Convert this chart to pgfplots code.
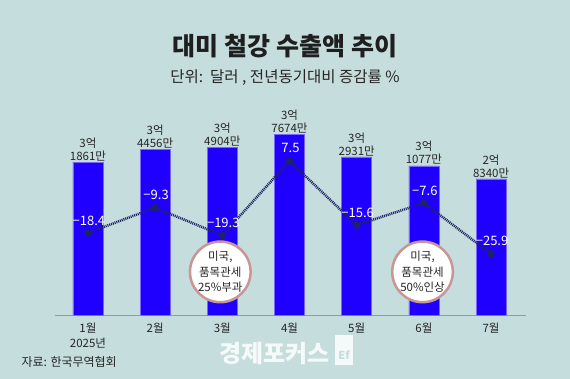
\documentclass[border=0pt]{standalone}
\usepackage{fontspec}
\setmainfont{Noto Sans CJK KR}
\usepackage{pgfplots}
\pgfplotsset{compat=1.18}
\definecolor{bg}{HTML}{C6DDDD}
\definecolor{barblue}{HTML}{1F00FF}
\definecolor{navy}{HTML}{1D2466}
\definecolor{rosy}{HTML}{C99595}
\definecolor{axgray}{HTML}{8E9E9E}
\begin{document}
\begin{tikzpicture}[x=1pt,y=1pt]
\fill[bg] (0,0) rectangle (570,379);
\useasboundingbox (0,0) rectangle (570,379);
\node[font=\bfseries\fontsize{25}{28}\selectfont, text=black!88] at (285,333) {대미 철강 수출액 추이};
\node[font=\fontsize{15.5}{17}\selectfont, text=black!85] at (285,301) {단위:\ \ 달러 , 전년동기대비 증감률 \%};
\node[font=\fontsize{12}{14}\selectfont, text=black!85, anchor=west] at (18,17) {자료: 한국무역협회};
\node[font=\bfseries\fontsize{24}{26}\selectfont, text=white, opacity=0.85, anchor=west] at (216,25) {경제포커스};
\fill[white, opacity=0.85] (335,14) rectangle (353,44);
\node[font=\bfseries\fontsize{11}{12}\selectfont, text=bg] at (344,24) {Ef};
\begin{axis}[
  at={(55pt,64pt)}, anchor=south west, scale only axis,
  width=471pt, height=215pt,
  xmin=-0.49, xmax=6.52, ymin=0, ymax=4.479,
  axis x line*=bottom, axis y line=none,
  axis line style={axgray, line width=0.8pt},
  xtick={0,...,6},
  xticklabels={{1월\\2025년},2월,3월,4월,5월,6월,7월},
  xticklabel style={align=center, font=\fontsize{11.5}{15}\selectfont, text=black!85, yshift=-4pt},
  major tick length=0pt,
  clip=false,
]
\addplot[ybar, bar width=30pt, fill=barblue, draw=barblue!60!white, line width=0.6pt]
  coordinates {(0,3.1861) (1,3.4456) (2,3.4904) (3,3.7674) (4,3.2931) (5,3.1077) (6,2.8340)};
\foreach \x/\v/\a/\b in {0/3.1861/3억/1861만, 1/3.4456/3억/4456만, 2/3.4904/3억/4904만, 3/3.7674/3억/7674만, 4/3.2931/3억/2931만, 5/3.1077/3억/1077만, 6/2.8340/2억/8340만}{
  \edef\temp{\noexpand\node[anchor=south, align=center, font=\noexpand\fontsize{11.5}{13}\noexpand\selectfont, text=black!85, inner sep=1pt] at (axis cs:\x,\v) {\a\noexpand\\\b};}
  \temp
}
\end{axis}
\begin{axis}[
  at={(55pt,64pt)}, anchor=south west, scale only axis,
  width=471pt, height=215pt,
  xmin=-0.49, xmax=6.52, ymin=-47.9, ymax=29.4,
  hide axis, clip=false,
]
\addplot[navy, line width=2.6pt, dash pattern=on 1pt off 0.9pt, mark=*, mark size=2.3pt, mark options={solid}]
  coordinates {(0,-18.4) (1,-9.3) (2,-19.3) (3,7.5) (4,-15.6) (5,-7.6) (6,-25.9)};
\foreach \x/\v/\t in {0/-18.4/−18.4, 1/-9.3/−9.3, 2/-19.3/−19.3, 3/7.5/7.5, 4/-15.6/−15.6, 5/-7.6/−7.6, 6/-25.9/−25.9}{
  \edef\temp{\noexpand\node[text=white, font=\noexpand\fontsize{13}{14}\noexpand\selectfont, yshift=12.5pt, xshift=1pt] at (axis cs:\x,\v) {\t};}
  \temp
}
\node[circle, fill=white, draw=rosy, line width=2.5pt, minimum size=57pt, inner sep=0pt, align=center, font=\fontsize{11.5}{15.5}\selectfont, text=black!85] at (axis cs:1.97,-32.4) {미국,\\품목관세\\25\%부과};
\node[circle, fill=white, draw=rosy, line width=2.5pt, minimum size=57pt, inner sep=0pt, align=center, font=\fontsize{11.5}{15.5}\selectfont, text=black!85] at (axis cs:4.98,-32.4) {미국,\\품목관세\\50\%인상};
\end{axis}
\end{tikzpicture}
\end{document}
